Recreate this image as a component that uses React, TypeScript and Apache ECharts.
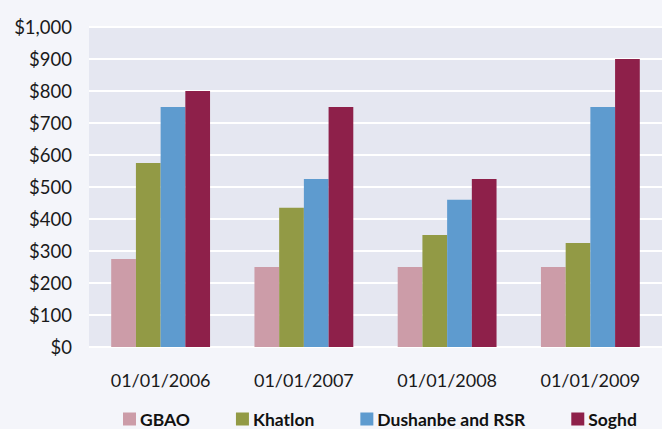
import React, { useEffect, useRef } from "react";
import * as echarts from "echarts";

const categories = ["01/01/2006", "01/01/2007", "01/01/2008", "01/01/2009"];
const seriesNames = ["GBAO", "Khatlon", "Dushanbe and RSR", "Soghd"];
const gbao = [275, 250, 250, 250];
const khatlon = [575, 435, 350, 325];
const dushanbe = [750, 525, 460, 750];
const soghd = [800, 750, 525, 900];
const colors = ["#cc9ca8", "#929a45", "#5e9bcf", "#8e204a"];

const fontFamily = "Lato, 'Open Sans', sans-serif";

export default function App() {
  const ref = useRef<HTMLDivElement>(null);

  useEffect(() => {
    if (!ref.current) return;
    const chart = echarts.init(ref.current, undefined, { renderer: "svg" });
    const values = [gbao, khatlon, dushanbe, soghd];
    chart.setOption({
      animation: false,
      backgroundColor: "#f4f5fa",
      textStyle: { fontFamily },
      grid: {
        left: 89,
        top: 27,
        width: 579,
        height: 320,
        show: true,
        backgroundColor: "#e5e7f1",
        borderWidth: 0,
        containLabel: false,
      },
      legend: {
        data: seriesNames,
        bottom: -4,
        left: 118,
        itemWidth: 13,
        itemHeight: 13,
        itemGap: 46,
        icon: "rect",
        textStyle: {
          fontFamily,
          fontSize: 17.5,
          fontWeight: "bold",
          color: "#111111",
          padding: [0, 0, 0, -1],
        },
      },
      xAxis: {
        type: "category",
        data: categories,
        axisLine: { show: false },
        axisTick: { show: false },
        axisLabel: {
          fontSize: 18,
          color: "#1a1a1a",
          margin: 24,
          fontFamily,
        },
      },
      yAxis: {
        type: "value",
        min: 0,
        max: 1000,
        interval: 100,
        axisLine: { show: false },
        axisTick: { show: false },
        splitLine: { lineStyle: { color: "#ffffff", width: 2 } },
        axisLabel: {
          fontSize: 18.5,
          color: "#1a1a1a",
          margin: 17,
          fontFamily,
          formatter: (v: number) => "$" + v.toLocaleString("en-US"),
        },
      },
      series: seriesNames.map((name, i) => ({
        name,
        type: "bar",
        data: values[i],
        barGap: "0%",
        barCategoryGap: "31%",
        itemStyle: { color: colors[i] },
      })),
    });
    return () => chart.dispose();
  }, []);

  return (
    <div
      ref={ref}
      style={{ position: "fixed", left: 0, top: 0, width: 662, height: 429 }}
    />
  );
}
